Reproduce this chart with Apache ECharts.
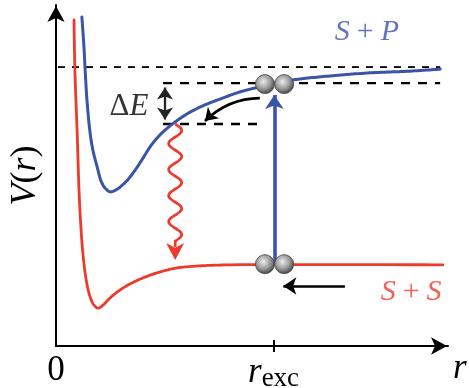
<!DOCTYPE html>
<html><head><meta charset="utf-8">
<script src="https://cdn.jsdelivr.net/npm/echarts@6/dist/echarts.min.js"></script>
<style>html,body{margin:0;padding:0;background:#fff}#c{width:469px;height:388px}</style>
</head><body><div id="c"></div>
<script>
// ---- data (arbitrary units: r on 0..10, V on 0..10) ----
const blueCurve = [[0.66,9.65],[0.71,8.83],[0.74,8.18],[0.79,7.21],[0.87,6.25],[0.94,5.75],[1.05,5.25],[1.17,4.78],[1.28,4.60],[1.38,4.52],[1.56,4.60],[1.81,4.85],[2.02,5.16],[2.22,5.51],[2.40,5.84],[2.58,6.10],[2.78,6.33],[3.04,6.57],[3.24,6.73],[3.42,6.86],[3.80,7.07],[4.18,7.24],[4.69,7.45],[5.20,7.60],[5.71,7.74],[6.22,7.83],[6.99,7.92],[8.01,8.01],[9.03,8.06],[9.80,8.12]];
const redCurve = [[0.46,9.56],[0.48,8.18],[0.54,6.25],[0.59,4.49],[0.64,3.40],[0.69,2.67],[0.77,1.94],[0.87,1.44],[0.97,1.20],[1.07,1.11],[1.20,1.20],[1.38,1.41],[1.63,1.64],[1.94,1.85],[2.27,2.02],[2.65,2.17],[3.09,2.29],[3.67,2.35],[4.44,2.38],[9.87,2.38]];
const rExc = 5.55;
const xTickLabels = [0, rExc];
const levelTop = [[0.05,8.18],[9.80,8.18]];
const levelUpper = [[2.73,7.71],[9.80,7.71]];
const levelLower = [[2.73,6.51],[5.33,6.51]];
const deltaEArrow = [[2.78,7.58],[2.78,6.64]];
const excitationArrow = [[5.57,2.40],[5.57,7.36]];
const relaxArrow = [[5.20,7.27],[3.80,6.60]];
const approachArrow = [[7.37,1.76],[5.80,1.76]];
const emissionWave = [[3.04,6.51,2.52]];
const atomsUpper = [[5.33,7.68],[5.82,7.68]];
const atomsLower = [[5.33,2.40],[5.82,2.40]];
const textLabels = [[7.93,9.21,'SP'],[9.06,1.58,'SS'],[1.86,7.01,'DE']];

const BLUE = '#3a55a6', RED = '#ee3a2c';
const atomColor = {type:'radial', x:0.42, y:0.38, r:0.65, colorStops:[{offset:0,color:'#ececec'},{offset:0.55,color:'#9a9a9a'},{offset:1,color:'#3c3c3c'}]};
const serif = "'Liberation Serif', 'DejaVu Serif', serif";

// centripetal Catmull-Rom through pixel points (rendering only)
function spline(pts, segs){
  const out = [pts[0]];
  const d = (a,b)=>Math.max(Math.pow(Math.hypot(b[0]-a[0], b[1]-a[1]), 0.5), 1e-4);
  const L = (a,b,wa,wb)=>[a[0]*wa+b[0]*wb, a[1]*wa+b[1]*wb];
  for (let i=0;i<pts.length-1;i++){
    const P0=pts[Math.max(i-1,0)], P1=pts[i], P2=pts[i+1], P3=pts[Math.min(i+2,pts.length-1)];
    const t0=0, t1=t0+d(P0,P1), t2=t1+d(P1,P2), t3=t2+d(P2,P3);
    for (let k=1;k<=segs;k++){
      const t=t1+(t2-t1)*k/segs;
      const A1=L(P0,P1,(t1-t)/(t1-t0),(t-t0)/(t1-t0));
      const A2=L(P1,P2,(t2-t)/(t2-t1),(t-t1)/(t2-t1));
      const A3=L(P2,P3,(t3-t)/(t3-t2),(t-t2)/(t3-t2));
      const B1=L(A1,A2,(t2-t)/(t2-t0),(t-t0)/(t2-t0));
      const B2=L(A2,A3,(t3-t)/(t3-t1),(t-t1)/(t3-t1));
      out.push(L(B1,B2,(t2-t)/(t2-t1),(t-t1)/(t2-t1)));
    }
  }
  return out;
}
function curveSeries(curve, color, width){
  return {type:'custom', data:[[curve[0][0], curve[0][1]]], z:2, silent:true, clip:false,
    renderItem:(params, api)=>({type:'polyline', shape:{points:spline(curve.map(p=>api.coord(p)), 14)},
      style:{stroke:color, lineWidth:width, fill:null, lineJoin:'round', lineCap:'round'}})};
}

const chart = echarts.init(document.getElementById('c'));
chart.setOption({
  animation:false,
  textStyle:{fontFamily:serif},
  grid:{left:56, top:5, right:21, bottom:42, containLabel:false, outerBoundsMode:'none'},
  xAxis:[{
    type:'value', min:0, max:10,
    splitLine:{show:false},
    axisLine:{lineStyle:{color:'#000', width:2}, symbol:['none','arrow'], symbolSize:[13,16], symbolOffset:[0,-1]},
    axisTick:{show:true, customValues:[rExc], length:6, lineStyle:{color:'#000', width:2}},
    axisLabel:{show:true, customValues:xTickLabels, margin:7, color:'#000', fontFamily:serif,
      formatter:v=> v===0 ? '{n|0}' : '{r|r}{s|exc}',
      rich:{n:{fontFamily:serif, fontSize:35, color:'#000'},
            r:{fontFamily:serif, fontStyle:'italic', fontSize:35, color:'#000'},
            s:{fontFamily:serif, fontSize:27, color:'#000', padding:[12,0,0,0]}}},
    name:'r', nameLocation:'end', nameGap:5,
    nameTextStyle:{fontFamily:serif, fontStyle:'italic', fontSize:35, color:'#000', verticalAlign:'top', padding:[5,0,0,0]}
  },{
    type:'value', min:0, max:10, position:'bottom',
    axisLine:{show:false}, splitLine:{show:false}, axisLabel:{show:false},
    axisTick:{show:true, inside:true, customValues:[rExc], length:6, lineStyle:{color:'#000', width:2}}
  }],
  yAxis:{
    type:'value', min:0, max:10,
    splitLine:{show:false}, axisTick:{show:false}, axisLabel:{show:false},
    axisLine:{lineStyle:{color:'#000', width:2}, symbol:['none','arrow'], symbolSize:[13,16], symbolOffset:[0,-1]},
    name:'{i|V}{n|(}{i|r}{n|)}', nameLocation:'middle', nameRotate:90, nameGap:12,
    nameTextStyle:{fontFamily:serif, rich:{i:{fontFamily:serif, fontStyle:'italic', fontSize:36, color:'#000'}, n:{fontFamily:serif, fontSize:36, color:'#000'}}}
  },
  series:[
    {type:'line', data:levelTop, symbol:'none', silent:true, lineStyle:{color:'#000', width:1.8, type:[7,7]}, z:1},
    {type:'line', data:levelUpper, symbol:'none', silent:true, lineStyle:{color:'#000', width:2.3, type:[9,8]}, z:1},
    {type:'line', data:levelLower, symbol:'none', silent:true, lineStyle:{color:'#000', width:2.3, type:[9,8]}, z:1},
    curveSeries(redCurve, RED, 2.8),
    curveSeries(blueCurve, BLUE, 3),
    {type:'lines', coordinateSystem:'cartesian2d', symbol:['arrow','arrow'], symbolSize:12,
      lineStyle:{color:'#222', width:2.3, opacity:1}, data:[{coords:deltaEArrow}], z:3},
    {type:'lines', coordinateSystem:'cartesian2d', symbol:['none','arrow'], symbolSize:14,
      lineStyle:{color:BLUE, width:3.6, opacity:1}, data:[{coords:excitationArrow}], z:3},
    {type:'lines', coordinateSystem:'cartesian2d', symbol:['none','arrow'], symbolSize:12,
      lineStyle:{color:'#000', width:2.7, opacity:1, curveness:-0.2}, data:[{coords:relaxArrow}], z:3},
    {type:'lines', coordinateSystem:'cartesian2d', symbol:['none','arrow'], symbolSize:13,
      lineStyle:{color:'#000', width:2.7, opacity:1}, data:[{coords:approachArrow}], z:3},
    {type:'custom', data:emissionWave, z:3, silent:true,
      renderItem:(params, api)=>{
        const p0 = api.coord([api.value(0), api.value(1)]);
        const p1 = api.coord([api.value(0), api.value(2)]);
        const headLen = 17, headW = 9;
        const waveEnd = p1[1] - headLen - 2;
        const len = waveEnd - p0[1];
        const period = len / 4.5, amp = 6.5;
        const pts = [];
        for (let t = 0; t <= len; t += 0.5) pts.push([p0[0] + amp*Math.sin(2*Math.PI*t/period), p0[1] + t]);
        pts.push([p0[0], p1[1] - headLen + 4]);
        return {type:'group', children:[
          {type:'polyline', shape:{points:pts}, style:{stroke:RED, lineWidth:2.7, fill:null}},
          {type:'polygon', shape:{points:[[p0[0], p1[1]],[p0[0]-headW, p1[1]-headLen],[p0[0], p1[1]-headLen*0.72],[p0[0]+headW, p1[1]-headLen]]}, style:{fill:RED}}
        ]};
      }},
    {type:'scatter', data:atomsUpper.concat(atomsLower), symbol:'circle', symbolSize:19, z:5,
      itemStyle:{color:atomColor, borderColor:'#444', borderWidth:0.8, opacity:1}},
    {type:'scatter', data:textLabels, symbolSize:0, z:6, silent:true,
      label:{show:true, position:'inside', fontFamily:serif,
        formatter:p=>({SP:'{b|S}{bn|+}{b|P}', SS:'{r|S}{rn|+}{r|S}', DE:'{kn|Δ}{k|E}'})[p.value[2]],
        rich:{
          b:{fontFamily:serif, fontStyle:'italic', fontSize:30, color:BLUE},
          bn:{fontFamily:serif, fontSize:30, color:BLUE, padding:[0,7,0,7]},
          r:{fontFamily:serif, fontStyle:'italic', fontSize:30, color:RED},
          rn:{fontFamily:serif, fontSize:30, color:RED, padding:[0,7,0,7]},
          k:{fontFamily:serif, fontStyle:'italic', fontSize:31, color:'#000'},
          kn:{fontFamily:serif, fontSize:31, color:'#000'}
        }}}
  ]
});
</script></body></html>
